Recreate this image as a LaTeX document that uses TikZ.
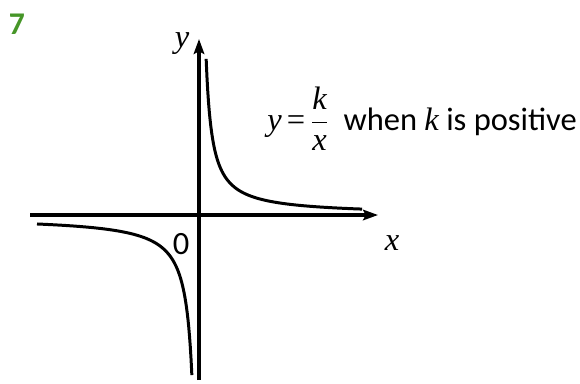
\documentclass[tikz,border=0pt]{standalone}
\usepackage{fontspec}
\setmainfont{Carlito}
\newfontfamily\tms{Liberation Serif}
\usetikzlibrary{arrows.meta}
\definecolor{numgreen}{RGB}{70,150,40}
\tikzset{
  axis/.style={line width=2pt,-{Stealth[length=8.5pt,width=6pt,inset=1.5pt]}},
  curve/.style={line width=1.7pt},
  lbl/.style={inner sep=0pt,font=\fontsize{18.5}{22}\selectfont},
  var/.style={inner sep=0pt,font=\fontsize{18.5}{22}\selectfont\tms\itshape}
}
\begin{document}
\begin{tikzpicture}[x=0.02cm,y=-0.02cm]
\useasboundingbox (0,0) rectangle (580,383);
\node[inner sep=0pt,font=\fontsize{18}{20}\selectfont\bfseries,text=numgreen] (num) at (17,24) {7};
\coordinate (xl) at (30,215);
\coordinate (xr) at (378,215);
\coordinate (yb) at (199,380);
\coordinate (yt) at (199,39);
\draw[axis] (xl) -- (xr);
\draw[axis] (yb) -- (yt);
\draw[curve] plot[domain=206.15:362,samples=200] (\x,{215-960/(\x-200)});
\draw[curve] plot[domain=37:191.85,samples=200] (\x,{217+1130/(199-\x)});
\node[var] (ylab) at (182,44) {y};
\node[var] (xlab) at (392,243) {x};
\node[lbl] (zero) at (181,244) {0};
\node[lbl,anchor=base west] (eq) at (267,130) {$\mbox{\tms\itshape y}\,\mbox{\tms =}\,\displaystyle\frac{\mbox{\tms\itshape k}}{\mbox{\tms\itshape x}}$\ \ when {\tms\itshape k} is positive};
\end{tikzpicture}
\end{document}
